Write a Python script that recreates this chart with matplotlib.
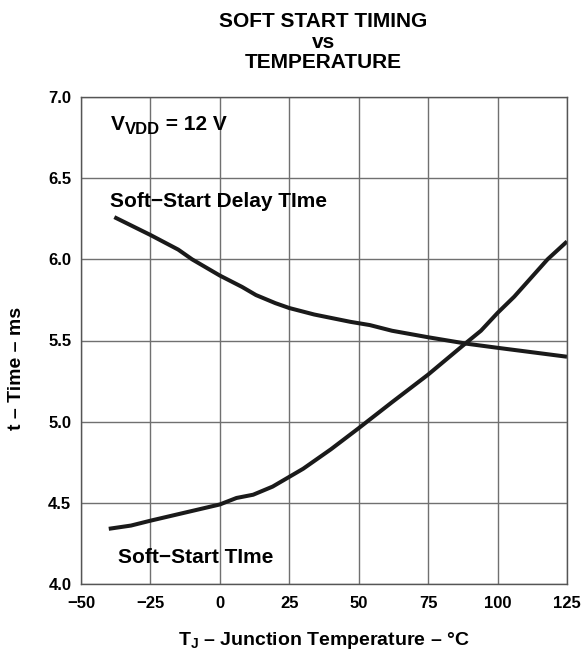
import matplotlib
matplotlib.use("Agg")
import matplotlib.pyplot as plt

plt.rcParams['font.family'] = ['Liberation Sans', 'DejaVu Sans']
plt.rcParams['font.weight'] = 'bold'
plt.rcParams['mathtext.fontset'] = 'custom'
plt.rcParams['mathtext.rm'] = 'Liberation Sans:bold'
plt.rcParams['mathtext.bf'] = 'Liberation Sans:bold'
plt.rcParams['mathtext.it'] = 'Liberation Sans:bold'

# values
delay_T = [-38, -25, -15, -10, -5, 0, 8, 13, 20, 25, 34, 47, 54, 62, 75, 89, 100, 125]
delay_t = [6.26, 6.15, 6.06, 6.00, 5.95, 5.90, 5.83, 5.78, 5.73, 5.70, 5.66, 5.615, 5.595, 5.56, 5.52, 5.48, 5.455, 5.40]

ss_T = [-40, -32, -25, -10, 0, 6, 12, 19, 25, 30, 35, 40, 50, 62, 75, 89, 94, 100, 106, 118, 125]
ss_t = [4.34, 4.36, 4.39, 4.45, 4.49, 4.53, 4.55, 4.60, 4.66, 4.71, 4.77, 4.83, 4.96, 5.12, 5.29, 5.49, 5.56, 5.67, 5.77, 6.00, 6.11]

xticks = [-50, -25, 0, 25, 50, 75, 100, 125]
yticks = [4.0, 4.5, 5.0, 5.5, 6.0, 6.5, 7.0]

W, H = 587, 654
fig = plt.figure(figsize=(W/100, H/100), dpi=100)
ax = fig.add_axes([81/W, 1 - 584/H, 486/W, 487/H])

ax.plot(delay_T, delay_t, color='#1a1a1a', lw=2.9, solid_capstyle='butt')
ax.plot(ss_T, ss_t, color='#1a1a1a', lw=2.9, solid_capstyle='butt')

ax.set_xlim(-50, 125)
ax.set_ylim(4.0, 7.0)
ax.set_xticks(xticks)
ax.set_yticks(yticks)
ax.set_yticklabels(["%.1f" % v for v in yticks])
ax.grid(True, color='#707070', lw=1.0)
ax.set_axisbelow(True)
for s in ax.spines.values():
    s.set_color('#555555')
    s.set_linewidth(1.0)
ax.tick_params(length=0, labelsize=12)
ax.tick_params(axis='x', pad=9)
ax.tick_params(axis='y', pad=7)

# axis labels
fig.text(323.5/W, 1 - 645/H, r"T$_\mathbf{J}$ – Junction Temperature – °C",
         fontsize=14, fontweight='bold', ha='center', va='baseline')
fig.text(17/W, 1 - 368/H, "t – Time – ms", fontsize=14, fontweight='bold',
         rotation=90, ha='center', va='center')

# title
for txt, yb in [("SOFT START TIMING", 26.7), ("vs", 47.5), ("TEMPERATURE", 68.3)]:
    fig.text(323.5/W, 1 - yb/H, txt, fontsize=15, fontweight='bold', ha='center', va='baseline')

# V_VDD label, pieces placed one after another (bigger subscript than mathtext)
rend = fig.canvas.get_renderer()
vx, vy = -39.2, 6.797
t1 = ax.text(vx, vy, "V", fontsize=15, fontweight='bold', va='baseline')
w1 = t1.get_window_extent(rend).width
t2 = ax.annotate("VDD", xy=(vx, vy), xytext=(w1 + 0.5, -4), textcoords='offset pixels',
                 fontsize=12, fontweight='bold', va='baseline')
w2 = t2.get_window_extent(rend).width
ax.annotate(" = 12 V", xy=(vx, vy), xytext=(w1 + w2 + 0.5, 0), textcoords='offset pixels',
            fontsize=15, fontweight='bold', va='baseline')

ax.text(-39.6, 6.322, "Soft−Start Delay TIme", fontsize=15, fontweight='bold', va='baseline')
ax.text(-36.7, 4.129, "Soft−Start TIme", fontsize=15, fontweight='bold', va='baseline')

fig.savefig("out.png", dpi=100)
